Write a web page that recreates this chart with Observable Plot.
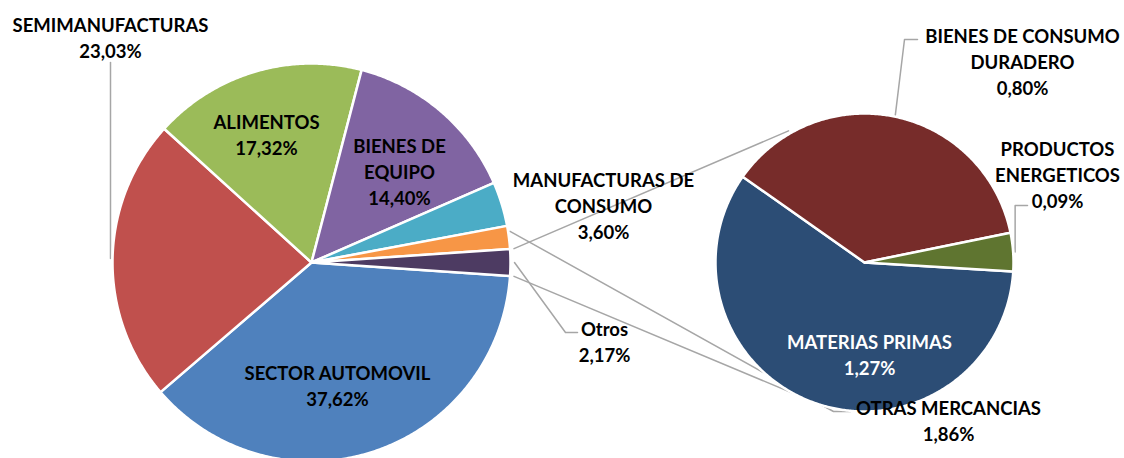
<!DOCTYPE html>
<html><head><meta charset="utf-8">
<script src="https://cdn.jsdelivr.net/npm/d3@7"></script>
<script src="https://cdn.jsdelivr.net/npm/@observablehq/plot@0.6"></script>
<style>body{margin:0;background:#fff;} #chart svg{display:block;}</style>
</head><body><div id="chart"></div>
<script>
// ---- data ----
const mainCategories = ["SECTOR AUTOMOVIL","SEMIMANUFACTURAS","ALIMENTOS","BIENES DE EQUIPO","MANUFACTURAS DE CONSUMO","OTRAS MERCANCIAS","Otros"];
const mainValues = [37.62, 23.03, 17.32, 14.40, 3.60, 1.86, 2.17];
const mainColors = ["#4F81BD","#C0504D","#9BBB59","#8064A2","#4BACC6","#F79646","#4D3B62"];
const mainLabelNames = ["SECTOR AUTOMOVIL","SEMIMANUFACTURAS","ALIMENTOS","BIENES DE\nEQUIPO","MANUFACTURAS DE\nCONSUMO","OTRAS MERCANCIAS","Otros"];
const subCategories = ["MATERIAS PRIMAS","BIENES DE CONSUMO DURADERO","PRODUCTOS ENERGETICOS"];
const subValues = [1.27, 0.80, 0.09];
const subColors = ["#2C4D75","#772C2A","#5F7530"];
const subLabelNames = ["MATERIAS PRIMAS","BIENES DE CONSUMO\nDURADERO","PRODUCTOS\nENERGETICOS"];

// ---- layout ----
const W = 1124, H = 458;
const deg = Math.PI / 180;
const mainPie = {cx: 311, cy: 262, r: 199};
const subPie = {cx: 864, cy: 262, r: 149};
const mainStart = (90 + mainValues[6] * 3.6 / 2) * deg;
const subStart = 93.5 * deg;

const mainLabelPos = [[337,384,"#000"],[110,36,"#000"],[266,133,"#000"],[399,170,"#000"],[603,204,"#000"],[948,419,"#000"],[604,340,"#000"]];
const subLabelPos = [[869,353,"#fff"],[1022,60,"#000"],[1057,173,"#000"]];

function fmt(v){ return v.toFixed(2).replace(".", ",") + "%"; }
function polar(p, a, r){ return [p.cx + r*Math.sin(a), p.cy - r*Math.cos(a)]; }

function slices(values, start, pie, cats){
  const arcs = d3.pie().sort(null).startAngle(start).endAngle(start + 2*Math.PI)(values);
  const pts = [];
  arcs.forEach((a, i) => {
    pts.push({key: cats[i], x: pie.cx, y: pie.cy});
    const n = Math.max(2, Math.ceil((a.endAngle - a.startAngle) / (0.5*deg)));
    for (let k = 0; k <= n; k++) {
      const t = a.startAngle + (a.endAngle - a.startAngle) * k / n;
      const [x, y] = polar(pie, t, pie.r);
      pts.push({key: cats[i], x, y});
    }
  });
  return {arcs, pts};
}
const M = slices(mainValues, mainStart, mainPie, mainCategories);
const S = slices(subValues, subStart, subPie, subCategories);

// connector (series) lines from the "Otros" slice to the second pie
const otrosArc = M.arcs[6];
const cTop0 = polar(mainPie, otrosArc.startAngle, mainPie.r + 4);
const cBot0 = polar(mainPie, otrosArc.endAngle, mainPie.r + 4);
const cTop1 = polar(subPie, 330 * deg, subPie.r + 3);
const cBot1 = polar(subPie, 194 * deg, subPie.r + 1);
const connectors = [
  {id:"t", x: cTop0[0], y: cTop0[1]}, {id:"t", x: cTop1[0], y: cTop1[1]},
  {id:"b", x: cBot0[0], y: cBot0[1]}, {id:"b", x: cBot1[0], y: cBot1[1]}
];

// leader lines (label callouts)
const semiA = polar(mainPie, 270*deg, mainPie.r + 2);
const otrosA = polar(mainPie, (otrosArc.startAngle + otrosArc.endAngle)/2, mainPie.r + 2);
const omArc = M.arcs[5];
const omA = polar(mainPie, omArc.startAngle + (omArc.endAngle-omArc.startAngle)*0.25, mainPie.r + 2);
const bcArc = S.arcs[1];
const bcA = polar(subPie, (bcArc.startAngle + bcArc.endAngle)/2, subPie.r + 1);
const peArc = S.arcs[2];
const peA = polar(subPie, (peArc.startAngle + peArc.endAngle)/2, subPie.r + 1);
const leaders = [
  {id:"semi", x: semiA[0], y: semiA[1]-4}, {id:"semi", x: semiA[0], y: 62},
  {id:"otros", x: otrosA[0]+2, y: otrosA[1]}, {id:"otros", x: 565, y: 332}, {id:"otros", x: 577, y: 332},
  {id:"om", x: omA[0], y: omA[1]}, {id:"om", x: 833, y: 411}, {id:"om", x: 850, y: 411},
  {id:"bc", x: bcA[0], y: bcA[1]}, {id:"bc", x: 904, y: 39}, {id:"bc", x: 917, y: 39},
  {id:"pe", x: peA[0]+1, y: peA[1]}, {id:"pe", x: peA[0]+1, y: 205}, {id:"pe", x: 1027, y: 205}
];

const labels = [
  ...mainCategories.map((c, i) => ({text: mainLabelNames[i] + "\n" + fmt(mainValues[i]), x: mainLabelPos[i][0], y: mainLabelPos[i][1], color: mainLabelPos[i][2]})),
  ...subCategories.map((c, i) => ({text: subLabelNames[i] + "\n" + fmt(subValues[i]), x: subLabelPos[i][0], y: subLabelPos[i][1], color: subLabelPos[i][2]}))
];

const chart = Plot.plot({
  width: W, height: H,
  margin: 0,
  x: {domain: [0, W], range: [0, W], axis: null},
  y: {domain: [0, H], range: [0, H], axis: null},
  color: {domain: [...mainCategories, ...subCategories], range: [...mainColors, ...subColors]},
  style: {background: "#fff"},
  marks: [
    Plot.line(connectors, {x: "x", y: "y", z: "id", stroke: "#A6A6A6", strokeWidth: 1.5}),
    Plot.line(leaders, {x: "x", y: "y", z: "id", stroke: "#A6A6A6", strokeWidth: 1.5}),
    Plot.line(M.pts, {x: "x", y: "y", z: "key", fill: "key", stroke: "#fff", strokeWidth: 2.5, curve: "linear-closed", strokeLinejoin: "round"}),
    Plot.line(S.pts, {x: "x", y: "y", z: "key", fill: "key", stroke: "#fff", strokeWidth: 2.5, curve: "linear-closed", strokeLinejoin: "round"}),
    Plot.text(labels, {x: "x", y: "y", text: "text", fill: "color", fontSize: 18.5, fontWeight: "bold", fontFamily: "Lato", lineHeight: 1.43})
  ]
});
document.getElementById("chart").appendChild(chart);
</script>
</body></html>
